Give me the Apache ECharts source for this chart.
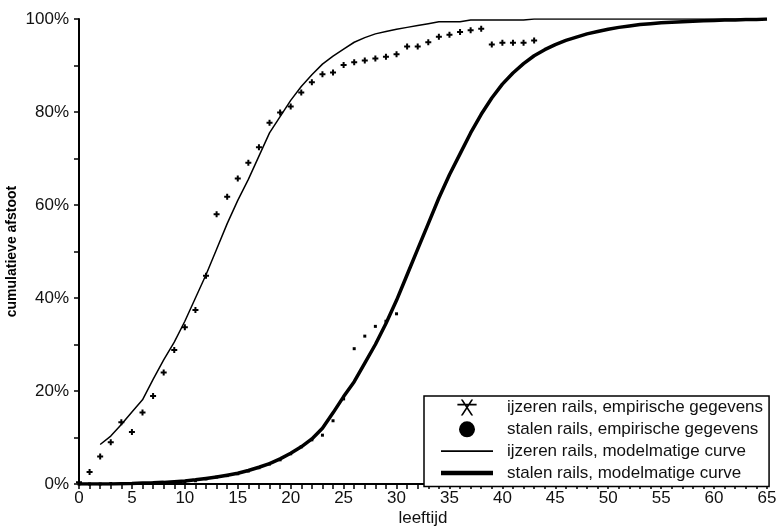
<!DOCTYPE html>
<html>
<head>
<meta charset="utf-8">
<script src="https://cdn.jsdelivr.net/npm/echarts@6/dist/echarts.min.js"></script>
<style>
html,body{margin:0;padding:0;background:#fff;}
#chart{width:778px;height:526px;}
</style>
</head>
<body>
<div id="chart"></div>
<script>
// ---- data ----
var seriesNames = [
  'ijzeren rails, empirische gegevens',
  'stalen rails, empirische gegevens',
  'ijzeren rails, modelmatige curve',
  'stalen rails, modelmatige curve'
];
// ijzeren rails, empirical (x = 0..43)
var ijzerenEmpX = [0,1,2,3,4,5,6,7,8,9,10,11,12,13,14,15,16,17,18,19,20,21,22,23,24,25,26,27,28,29,30,31,32,33,34,35,36,37,38,39,40,41,42,43];
var ijzerenEmpY = [0.4,2.6,5.9,9.0,13.3,11.2,15.4,18.9,24.0,28.8,33.7,37.4,44.8,58.0,61.8,65.7,69.1,72.4,77.7,79.9,81.2,84.2,86.4,88.1,88.5,90.1,90.7,91.1,91.5,91.9,92.4,94.1,94.1,95.0,96.2,96.6,97.2,97.6,97.9,94.5,94.9,94.9,94.9,95.4];
// stalen rails, empirical (x = 0..30)
var stalenEmpX = [0,1,2,3,4,5,6,7,8,9,10,11,12,13,14,15,16,17,18,19,20,21,22,23,24,25,26,27,28,29,30];
var stalenEmpY = [0,0,0,0.1,0.1,0.1,0.1,0.2,0.2,0.3,0.5,0.7,1.1,1.5,1.8,2.2,2.8,3.5,4.3,5.2,6.5,8.0,9.5,10.5,13.6,18.3,29.1,31.8,33.9,35.0,36.6];
// ijzeren rails, model curve (x = 2..65)
var ijzerenModX = [2,3,4,5,6,7,8,9,10,11,12,13,14,15,16,17,18,19,20,21,22,23,24,25,26,27,28,29,30,31,32,33,34,35,36,37,38,39,40,41,42,43,44,45,46,47,48,49,50,51,52,53,54,55,56,57,58,59,60,61,62,63,64,65];
var ijzerenModY = [8.5,10.3,12.8,15.5,18.1,22.5,26.7,30.5,35.0,40.0,45.0,50.5,56.0,61.0,65.5,70.5,75.5,79.0,82.5,85.5,88.0,90.3,92.0,93.5,95.0,96.0,96.8,97.3,97.8,98.2,98.6,99.0,99.4,99.4,99.4,99.8,99.8,99.8,99.8,99.8,99.8,100,100,100,100,100,100,100,100,100,100,100,100,100,100,100,100,100,100,100,100,100,100,100];
// stalen rails, model curve (x = 0..65)
var stalenModX = [0,1,2,3,4,5,6,7,8,9,10,11,12,13,14,15,16,17,18,19,20,21,22,23,24,25,26,27,28,29,30,31,32,33,34,35,36,37,38,39,40,41,42,43,44,45,46,47,48,49,50,51,52,53,54,55,56,57,58,59,60,61,62,63,64,65];
var stalenModY = [0,0,0,0,0.05,0.1,0.2,0.25,0.35,0.5,0.65,0.9,1.2,1.5,1.9,2.3,2.9,3.6,4.4,5.4,6.6,8.0,9.7,12.0,15.3,18.8,22.0,26.0,30.0,34.5,39.5,45.0,50.5,56.0,61.5,66.5,71.0,75.5,79.5,83.0,86.0,88.4,90.4,92.1,93.4,94.5,95.4,96.1,96.8,97.3,97.8,98.2,98.5,98.8,99.0,99.2,99.3,99.4,99.5,99.6,99.7,99.8,99.8,99.9,99.9,100];
var xAxisName = 'leeftijd';
var yAxisName = 'cumulatieve afstoot';

function pairs(xs, ys){ return xs.map(function(x,i){ return [x, ys[i]]; }); }

var asterisk = 'path://M0,4H18V5.6H0Z M3.2,0H5L14.8,15H13Z M13,0H14.8L5,15H3.2Z';
var plusMark = 'path://M0,2H6V4H0Z M2,0H4V6H2Z';
var thinBar = 'path://M0,0H48V1.5H0Z';
var thickBar = 'path://M0,0H52V4.5H0Z';
var font = 'Liberation Sans, Arial, sans-serif';

var chart = echarts.init(document.getElementById('chart'), null, {renderer:'canvas'});
chart.setOption({
  animation: false,
  backgroundColor: '#fff',
  textStyle: {fontFamily: font},
  grid: {left: 79, right: 11, top: 19, bottom: 42, containLabel: false, outerBoundsMode: 'none'},
  xAxis: {
    type: 'value', min: 0, max: 65, interval: 1,
    name: xAxisName, nameLocation: 'middle', nameGap: 26, nameMoveOverlap: false,
    nameTextStyle: {fontSize: 17, color: '#111', fontFamily: font},
    axisLine: {show: true, lineStyle: {color: '#000', width: 2}},
    axisTick: {show: true, length: 5, lineStyle: {color: '#000', width: 1.5}},
    axisLabel: {margin: 6, fontSize: 17, color: '#111', fontFamily: font,
      formatter: function(v){ return v % 5 === 0 ? String(v) : ''; }},
    splitLine: {show: false}
  },
  yAxis: {
    type: 'value', min: 0, max: 100, interval: 10,
    name: yAxisName, nameLocation: 'middle', nameGap: 60, nameRotate: 90, nameMoveOverlap: false,
    nameTextStyle: {fontSize: 14, fontWeight: 'bold', color: '#000', fontFamily: font},
    axisLine: {show: true, lineStyle: {color: '#000', width: 2}},
    axisTick: {show: true, length: 5, lineStyle: {color: '#000', width: 1.5}},
    axisLabel: {margin: 10, fontSize: 17, color: '#111', fontFamily: font,
      formatter: function(v){ return v % 20 === 0 ? v + '%' : ''; }},
    splitLine: {show: false}
  },
  legend: {
    orient: 'vertical', left: 424, top: 396,
    backgroundColor: '#fff', borderColor: '#000', borderWidth: 1.5,
    padding: [3, 6, 5, 17],
    itemWidth: 52, itemHeight: 16, itemGap: 4.8,
    textStyle: {fontSize: 17, color: '#111', fontFamily: font, lineHeight: 16, padding: [0,0,0,9]},
    data: [
      {name: seriesNames[0], icon: asterisk, itemStyle: {color: '#000', borderWidth: 0, opacity: 1}},
      {name: seriesNames[1], icon: 'circle', itemStyle: {color: '#000', borderWidth: 0, opacity: 1}},
      {name: seriesNames[2], icon: thinBar, itemStyle: {color: '#000', borderWidth: 0, opacity: 1}},
      {name: seriesNames[3], icon: thickBar, itemStyle: {color: '#000', borderWidth: 0, opacity: 1}}
    ]
  },
  series: [
    {
      name: seriesNames[2], type: 'line', data: pairs(ijzerenModX, ijzerenModY),
      symbol: 'none', lineStyle: {color: '#000', width: 1.5}, itemStyle: {color: '#000'}, z: 3
    },
    {
      name: seriesNames[3], type: 'line', data: pairs(stalenModX, stalenModY),
      symbol: 'none',
      lineStyle: {color: '#000', width: 3.5}, itemStyle: {color: '#000'}, z: 3
    },
    {
      name: seriesNames[0], type: 'scatter', data: pairs(ijzerenEmpX, ijzerenEmpY),
      symbol: plusMark, symbolSize: 6, itemStyle: {color: '#000', opacity: 1}, z: 4
    },
    {
      name: seriesNames[1], type: 'scatter', data: pairs(stalenEmpX, stalenEmpY),
      symbol: 'rect', symbolSize: 3, itemStyle: {color: '#000', opacity: 1}, z: 4
    }
  ]
});
</script>
</body>
</html>
